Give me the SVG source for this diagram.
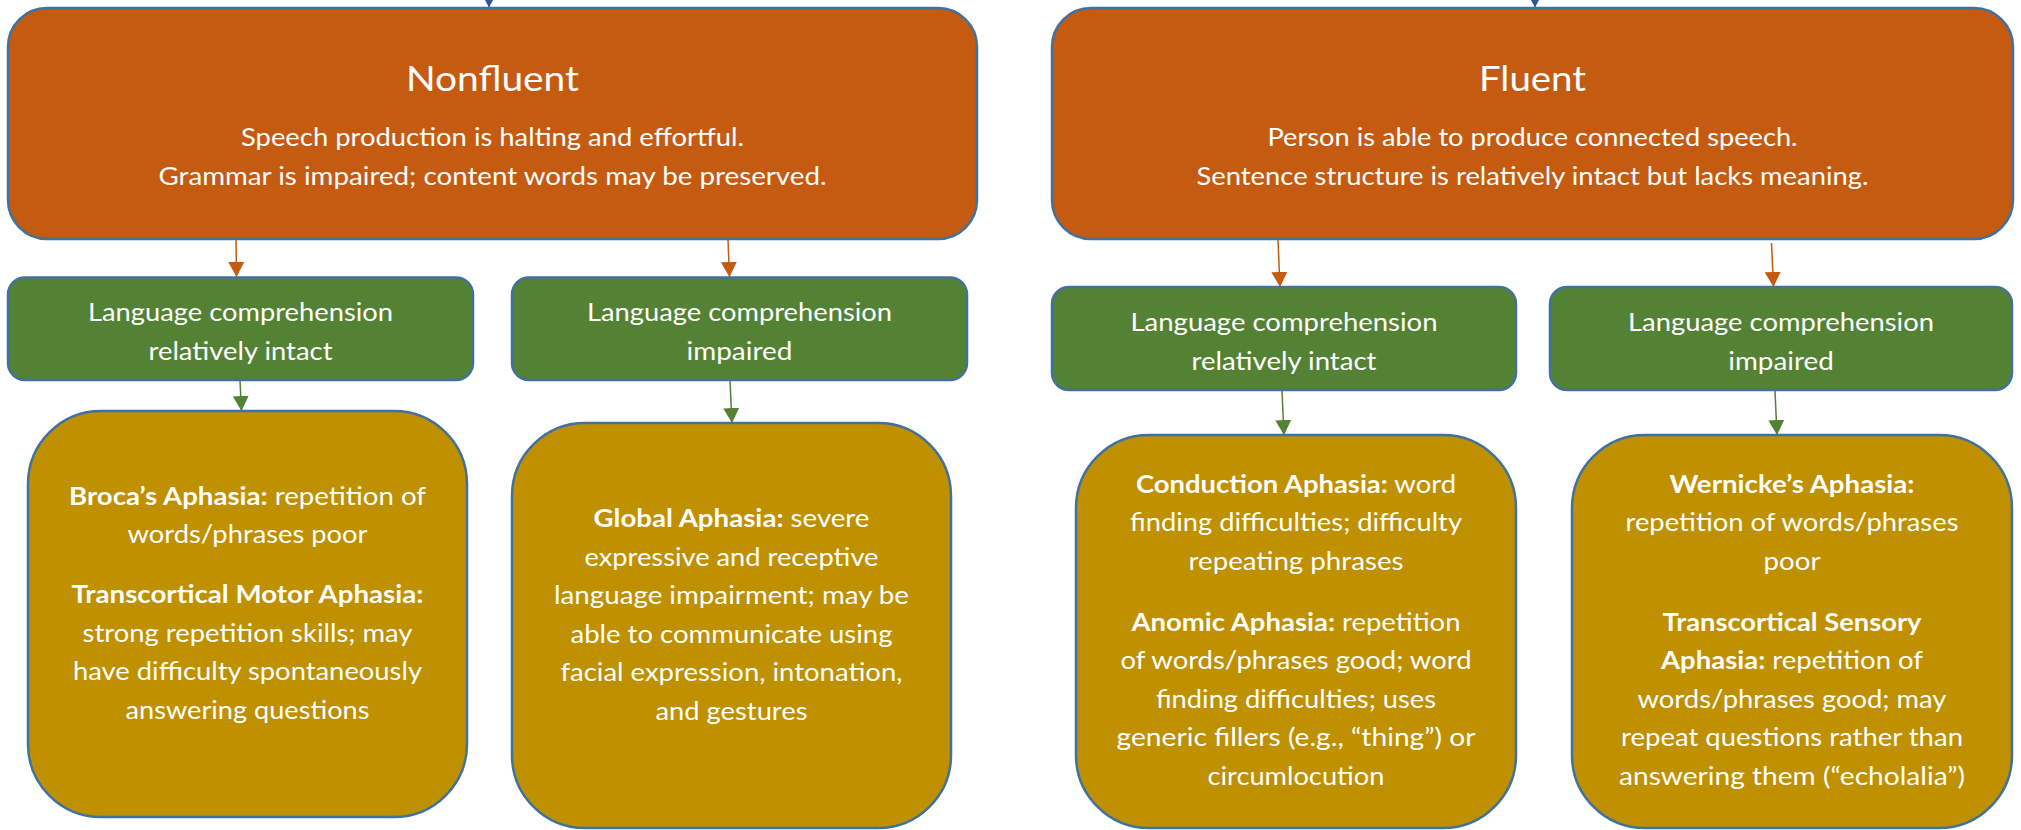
<svg xmlns="http://www.w3.org/2000/svg" width="2021" height="830" viewBox="0 0 2021 830">
  <style>
    .box { stroke: #41719C; stroke-width: 2.5; }
    .cat { fill: #C55A11; }
    .comp { fill: #548235; }
    .type { fill: #BF9000; }
    text { font-family: Lato, "Open Sans", "Liberation Sans", sans-serif; fill: #FFFFFF; text-anchor: middle; }
    .title { font-size: 34px; }
    .body { font-size: 25px; }
    .b { font-weight: bold; }
    .c-orange { stroke: #C55A11; stroke-width: 1.5; fill: none; }
    .c-green { stroke: #548235; stroke-width: 1.5; fill: none; }
    .c-blue { stroke: #2F5597; stroke-width: 1.5; fill: none; }
  </style>
  <defs>
    <marker id="ah-orange" viewBox="0 0 15 16" refX="15" refY="8" markerUnits="userSpaceOnUse" markerWidth="15" markerHeight="16" orient="auto">
      <path d="M0,0 L15,8 L0,16 z" fill="#C55A11"/>
    </marker>
    <marker id="ah-green" viewBox="0 0 15 16" refX="15" refY="8" markerUnits="userSpaceOnUse" markerWidth="15" markerHeight="16" orient="auto">
      <path d="M0,0 L15,8 L0,16 z" fill="#548235"/>
    </marker>
    <marker id="ah-blue" viewBox="0 0 15 16" refX="15" refY="8" markerUnits="userSpaceOnUse" markerWidth="15" markerHeight="16" orient="auto">
      <path d="M0,0 L15,8 L0,16 z" fill="#2F5597"/>
    </marker>
  </defs>

  <!-- connectors -->
  <g id="connectors">
    <line class="c-blue" x1="489" y1="-30" x2="489" y2="7.5" marker-end="url(#ah-blue)"/>
    <line class="c-blue" x1="1535" y1="-30" x2="1535" y2="7.5" marker-end="url(#ah-blue)"/>
    <line class="c-orange" x1="236" y1="240" x2="236.5" y2="277" marker-end="url(#ah-orange)"/>
    <line class="c-orange" x1="728" y1="240" x2="729.5" y2="277" marker-end="url(#ah-orange)"/>
    <line class="c-orange" x1="1278" y1="240" x2="1280" y2="287" marker-end="url(#ah-orange)"/>
    <line class="c-orange" x1="1771.5" y1="243" x2="1773.5" y2="287" marker-end="url(#ah-orange)"/>
    <line class="c-green" x1="240" y1="381" x2="241.5" y2="411" marker-end="url(#ah-green)"/>
    <line class="c-green" x1="730" y1="381" x2="732" y2="423" marker-end="url(#ah-green)"/>
    <line class="c-green" x1="1282" y1="391" x2="1284" y2="435" marker-end="url(#ah-green)"/>
    <line class="c-green" x1="1775" y1="391" x2="1777" y2="435" marker-end="url(#ah-green)"/>
  </g>

  <!-- Nonfluent branch -->
  <g id="nonfluent">
    <rect class="box cat" x="8" y="8" width="969" height="231" rx="39"/>
    <text class="title" x="492.5" y="91" textLength="173" lengthAdjust="spacingAndGlyphs">Nonfluent</text>
    <text class="body" x="492.5" y="146" textLength="503" lengthAdjust="spacingAndGlyphs">Speech production is halting and effortful.</text>
    <text class="body" x="492.5" y="184.5" textLength="668" lengthAdjust="spacingAndGlyphs">Grammar is impaired; content words may be preserved.</text>
  </g>

  <g id="nonfluent-intact">
    <rect class="box comp" x="8" y="277.5" width="465" height="102.5" rx="17"/>
    <text class="body" x="240.5" y="321" textLength="305" lengthAdjust="spacingAndGlyphs">Language comprehension</text>
    <text class="body" x="240.5" y="359.5" textLength="184" lengthAdjust="spacingAndGlyphs">relatively intact</text>
  </g>

  <g id="nonfluent-impaired">
    <rect class="box comp" x="512" y="277.5" width="455" height="102.5" rx="17"/>
    <text class="body" x="739.5" y="321" textLength="305" lengthAdjust="spacingAndGlyphs">Language comprehension</text>
    <text class="body" x="739.5" y="359.5" textLength="106" lengthAdjust="spacingAndGlyphs">impaired</text>
  </g>

  <g id="broca">
    <rect class="box type" x="28" y="411" width="439" height="406" rx="73"/>
    <text class="body" x="247.5" y="504.5" textLength="357" lengthAdjust="spacingAndGlyphs"><tspan class="b">Broca’s Aphasia:</tspan> repetition of</text>
    <text class="body" x="247.5" y="543" textLength="240" lengthAdjust="spacingAndGlyphs">words/phrases poor</text>
    <text class="body b" x="247.5" y="603" textLength="352" lengthAdjust="spacingAndGlyphs">Transcortical Motor Aphasia:</text>
    <text class="body" x="247.5" y="641.5" textLength="330" lengthAdjust="spacingAndGlyphs">strong repetition skills; may</text>
    <text class="body" x="247.5" y="680" textLength="349" lengthAdjust="spacingAndGlyphs">have difficulty spontaneously</text>
    <text class="body" x="247.5" y="719" textLength="244" lengthAdjust="spacingAndGlyphs">answering questions</text>
  </g>

  <g id="global">
    <rect class="box type" x="512" y="423" width="439" height="405" rx="73"/>
    <text class="body" x="731.5" y="527" textLength="276" lengthAdjust="spacingAndGlyphs"><tspan class="b">Global Aphasia:</tspan> severe</text>
    <text class="body" x="731.5" y="565.5" textLength="294" lengthAdjust="spacingAndGlyphs">expressive and receptive</text>
    <text class="body" x="731.5" y="604" textLength="355" lengthAdjust="spacingAndGlyphs">language impairment; may be</text>
    <text class="body" x="731.5" y="642.5" textLength="322" lengthAdjust="spacingAndGlyphs">able to communicate using</text>
    <text class="body" x="731.5" y="681" textLength="342" lengthAdjust="spacingAndGlyphs">facial expression, intonation,</text>
    <text class="body" x="731.5" y="719.5" textLength="152" lengthAdjust="spacingAndGlyphs">and gestures</text>
  </g>

  <!-- Fluent branch -->
  <g id="fluent">
    <rect class="box cat" x="1052" y="8" width="961" height="231" rx="39"/>
    <text class="title" x="1532.5" y="91" textLength="107" lengthAdjust="spacingAndGlyphs">Fluent</text>
    <text class="body" x="1532.5" y="146" textLength="530" lengthAdjust="spacingAndGlyphs">Person is able to produce connected speech.</text>
    <text class="body" x="1532.5" y="184.5" textLength="672" lengthAdjust="spacingAndGlyphs">Sentence structure is relatively intact but lacks meaning.</text>
  </g>

  <g id="fluent-intact">
    <rect class="box comp" x="1052" y="287" width="464" height="103" rx="17"/>
    <text class="body" x="1284" y="331" textLength="307" lengthAdjust="spacingAndGlyphs">Language comprehension</text>
    <text class="body" x="1284" y="369.5" textLength="185" lengthAdjust="spacingAndGlyphs">relatively intact</text>
  </g>

  <g id="fluent-impaired">
    <rect class="box comp" x="1550" y="287" width="462" height="103" rx="17"/>
    <text class="body" x="1781" y="331" textLength="306" lengthAdjust="spacingAndGlyphs">Language comprehension</text>
    <text class="body" x="1781" y="369.5" textLength="105.5" lengthAdjust="spacingAndGlyphs">impaired</text>
  </g>

  <g id="conduction">
    <rect class="box type" x="1076" y="435" width="440" height="393" rx="73"/>
    <text class="body" x="1296" y="492.5" textLength="320" lengthAdjust="spacingAndGlyphs"><tspan class="b">Conduction Aphasia:</tspan> word</text>
    <text class="body" x="1296" y="531" textLength="332" lengthAdjust="spacingAndGlyphs">finding difficulties; difficulty</text>
    <text class="body" x="1296" y="569.5" textLength="215" lengthAdjust="spacingAndGlyphs">repeating phrases</text>
    <text class="body" x="1296" y="630.5" textLength="329" lengthAdjust="spacingAndGlyphs"><tspan class="b">Anomic Aphasia:</tspan> repetition</text>
    <text class="body" x="1296" y="669" textLength="351" lengthAdjust="spacingAndGlyphs">of words/phrases good; word</text>
    <text class="body" x="1296" y="707.5" textLength="280" lengthAdjust="spacingAndGlyphs">finding difficulties; uses</text>
    <text class="body" x="1296" y="746" textLength="359" lengthAdjust="spacingAndGlyphs">generic fillers (e.g., “thing”) or</text>
    <text class="body" x="1296" y="784.5" textLength="177" lengthAdjust="spacingAndGlyphs">circumlocution</text>
  </g>

  <g id="wernicke">
    <rect class="box type" x="1572" y="435" width="440" height="393" rx="73"/>
    <text class="body b" x="1792" y="492.5" textLength="245" lengthAdjust="spacingAndGlyphs">Wernicke’s Aphasia:</text>
    <text class="body" x="1792" y="531" textLength="333" lengthAdjust="spacingAndGlyphs">repetition of words/phrases</text>
    <text class="body" x="1792" y="569.5" textLength="57" lengthAdjust="spacingAndGlyphs">poor</text>
    <text class="body b" x="1792" y="630.5" textLength="259" lengthAdjust="spacingAndGlyphs">Transcortical Sensory</text>
    <text class="body" x="1792" y="669" textLength="262" lengthAdjust="spacingAndGlyphs"><tspan class="b">Aphasia:</tspan> repetition of</text>
    <text class="body" x="1792" y="707.5" textLength="309" lengthAdjust="spacingAndGlyphs">words/phrases good; may</text>
    <text class="body" x="1792" y="746" textLength="342" lengthAdjust="spacingAndGlyphs">repeat questions rather than</text>
    <text class="body" x="1792" y="784.5" textLength="346" lengthAdjust="spacingAndGlyphs">answering them (“echolalia”)</text>
  </g>
</svg>
